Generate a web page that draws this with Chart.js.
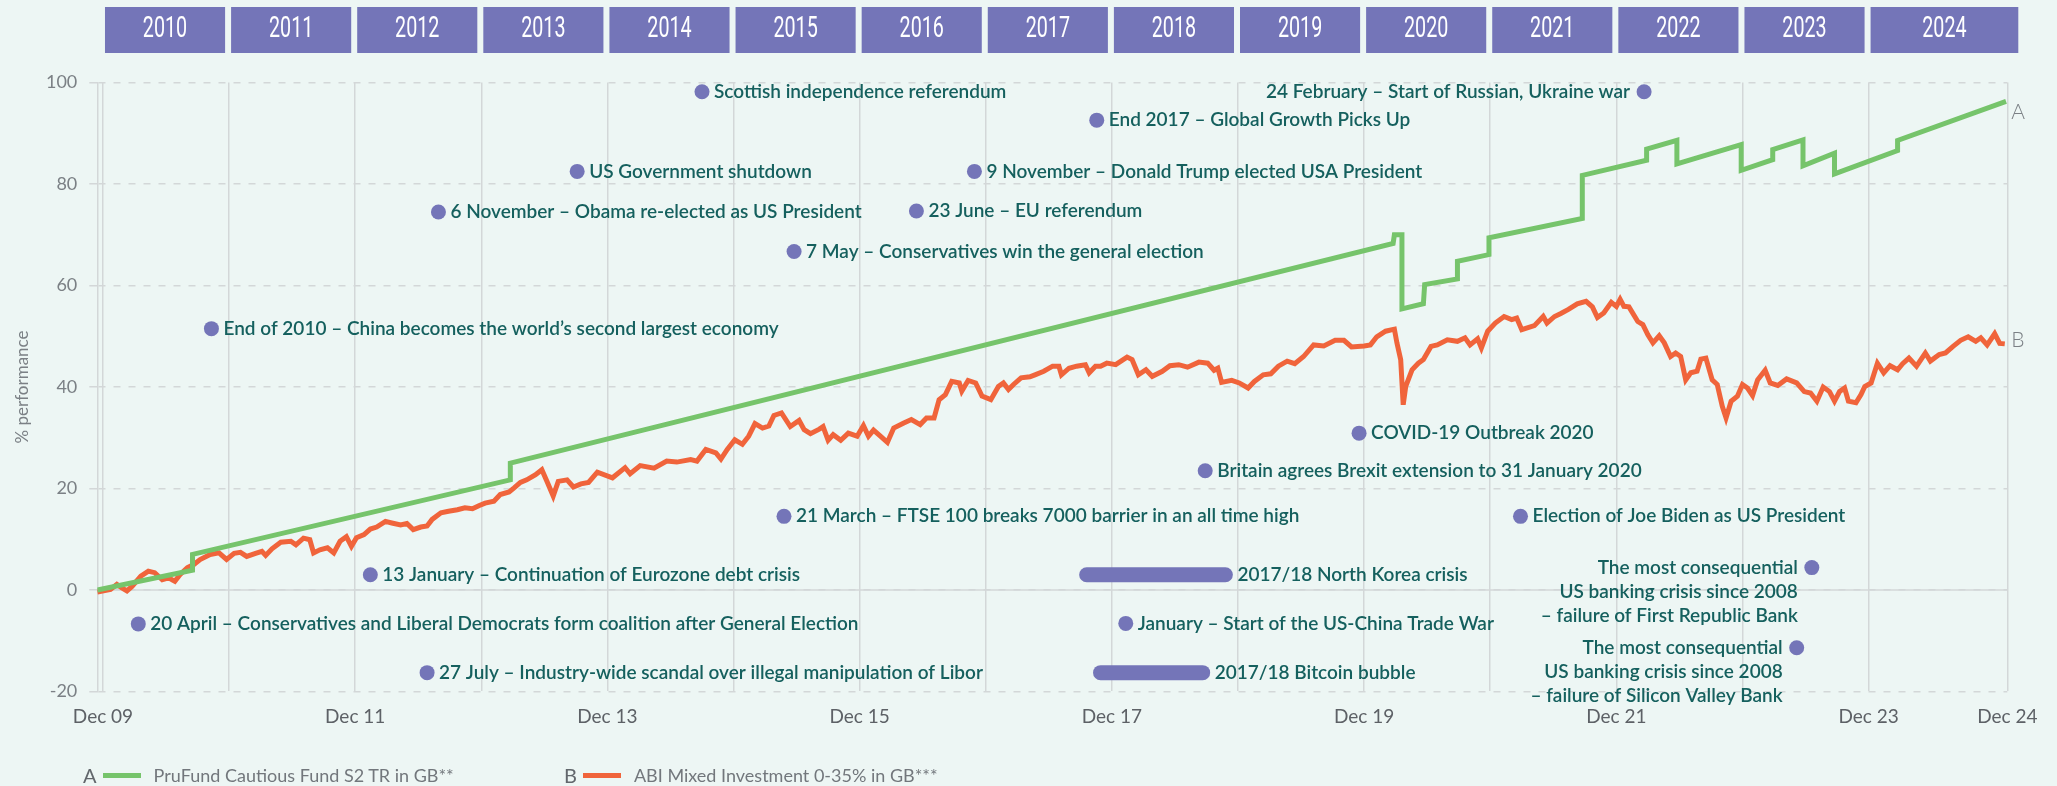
<!DOCTYPE html>
<html>
<head>
<meta charset="utf-8">
<script src="https://cdn.jsdelivr.net/npm/chart.js@4.4.1/dist/chart.umd.min.js"></script>
<style>
  html, body { margin: 0; padding: 0; background: #EDF6F4; }
  #wrap { position: relative; width: 2057px; height: 786px; }
  #legend { position: absolute; top: 762px; left: 0; width: 2057px; height: 26px; font-family: Lato, sans-serif; font-size: 18px; color: #72777c; }
  .item { position: absolute; top: 0; height: 26px; white-space: nowrap; display: flex; align-items: center; }
  .item:nth-child(1) { left: 83px; }
  .item:nth-child(2) { left: 564px; }
  .key { font-size: 20px; margin-right: 6px; color: #62676c; }
  .swatch { display: inline-block; width: 38px; height: 5px; margin-right: 13px; }
</style>
</head>
<body>
<div id="wrap">
  <canvas id="chart"></canvas>
  <div id="legend"></div>
</div>
<script>
// years counted from Dec 09 (0) to Dec 24
const headerYears = ['2010', '2011', '2012', '2013', '2014', '2015', '2016', '2017', '2018', '2019', '2020', '2021', '2022', '2023', '2024'];
const xTickYears = [0, 1, 2, 3, 4, 5, 6, 7, 8, 9, 10, 11, 12, 13, 14, 15.1];
const xTickLabels = ['Dec 09', '', 'Dec 11', '', 'Dec 13', '', 'Dec 15', '', 'Dec 17', '', 'Dec 19', '', 'Dec 21', '', 'Dec 23', 'Dec 24'];

const seriesKeys = ['A', 'B'];
const seriesNames = ['PruFund Cautious Fund S2 TR in GB**', 'ABI Mixed Investment 0-35% in GB***'];
const seriesColors = ['#76C46B', '#F0643B'];
const endLabelValues = [94.1, 49.3];

const greenYears = [-0.045, 0.71, 0.71, 3.23, 3.23, 10.23, 10.24, 10.30, 10.30, 10.47, 10.48, 10.74, 10.74, 10.99, 10.99, 11.73, 11.73, 12.24, 12.24, 12.48, 12.48, 12.99, 12.99, 13.24, 13.24, 13.48, 13.48, 13.73, 13.73, 14.23, 14.23, 15.09];
const greenValues = [0, 3.9, 7.0, 21.7, 25.0, 68.3, 70.0, 70.0, 55.4, 56.4, 60.2, 61.3, 64.8, 66.1, 69.4, 73.2, 81.7, 84.7, 86.9, 88.6, 84.0, 87.8, 82.7, 84.8, 86.8, 88.7, 83.6, 86.1, 82.0, 86.6, 88.6, 96.3];

const orangeYears = [
  -0.045, 0.06, 0.11, 0.15, 0.19, 0.23, 0.30, 0.36, 0.41, 0.47, 0.52, 0.57, 0.61, 0.67, 0.72, 0.77, 0.85, 0.92, 0.98,
  1.04, 1.09, 1.14, 1.21, 1.26, 1.29, 1.34, 1.41, 1.49, 1.53, 1.59, 1.64, 1.67, 1.72, 1.78, 1.83, 1.88, 1.93, 1.97,
  2.01, 2.07, 2.12, 2.17, 2.24, 2.29, 2.36, 2.41, 2.46, 2.52, 2.57, 2.61, 2.68, 2.74, 2.81, 2.87, 2.93, 2.98,
  3.03, 3.10, 3.15, 3.22, 3.26, 3.31, 3.36, 3.43, 3.48, 3.52, 3.57, 3.61, 3.68, 3.73, 3.79, 3.85, 3.92,
  4.04, 4.14, 4.18, 4.26, 4.37, 4.47, 4.55, 4.66, 4.71, 4.78, 4.86, 4.90, 4.95,
  5.01, 5.07, 5.12, 5.17, 5.23, 5.28, 5.32, 5.38, 5.45, 5.52, 5.56, 5.61, 5.68, 5.71, 5.75, 5.79, 5.85, 5.91, 5.98,
  6.03, 6.07, 6.11, 6.16, 6.22, 6.27, 6.35, 6.41, 6.48, 6.53, 6.59, 6.63, 6.68, 6.73, 6.79, 6.81, 6.86, 6.92, 6.97,
  7.04, 7.10, 7.14, 7.18, 7.22, 7.28, 7.35, 7.39, 7.46, 7.53, 7.58, 7.60, 7.66, 7.72, 7.79, 7.82, 7.87, 7.91, 7.96,
  8.03, 8.12, 8.16, 8.21, 8.27, 8.32, 8.40, 8.46, 8.53, 8.60, 8.69, 8.76, 8.81, 8.84, 8.87, 8.95,
  9.01, 9.08, 9.13, 9.20, 9.26, 9.32, 9.39, 9.45, 9.52, 9.60, 9.68, 9.77, 9.84, 9.90,
  10.00, 10.05, 10.10, 10.17, 10.24, 10.26, 10.29, 10.31, 10.33, 10.38, 10.43, 10.47, 10.53, 10.58, 10.66, 10.74, 10.80, 10.84, 10.90, 10.93, 10.98,
  11.04, 11.11, 11.17, 11.21, 11.25, 11.35, 11.42, 11.45, 11.51, 11.56, 11.62, 11.69, 11.76, 11.81, 11.85, 11.90, 11.96,
  12.00, 12.03, 12.06, 12.10, 12.17, 12.21, 12.25, 12.29, 12.34, 12.38, 12.43, 12.47, 12.51, 12.55, 12.59, 12.64, 12.67, 12.71, 12.76, 12.80, 12.84, 12.87, 12.91, 12.96,
  13.00, 13.04, 13.08, 13.12, 13.18, 13.22, 13.28, 13.35, 13.43, 13.49, 13.54, 13.59, 13.64, 13.69, 13.73, 13.77, 13.81, 13.84, 13.90, 13.94, 13.97,
  14.02, 14.07, 14.12, 14.17, 14.23, 14.27, 14.32, 14.38, 14.45, 14.49, 14.56, 14.61, 14.67, 14.73, 14.79, 14.85, 14.89, 14.94,
  15.00, 15.04, 15.08
];
const orangeValues = [
  -0.4, 0.1, 1.1, 0.4, -0.2, 0.7, 2.7, 3.7, 3.4, 2.0, 2.4, 1.7, 3.0, 4.4, 5.0, 6.0, 7.0, 7.3, 6.0,
  7.2, 7.4, 6.6, 7.2, 7.6, 6.8, 8.1, 9.4, 9.6, 8.9, 10.2, 9.9, 7.3, 7.9, 8.3, 7.3, 9.6, 10.5, 8.6,
  10.3, 10.9, 12.0, 12.4, 13.5, 13.2, 12.8, 13.1, 11.9, 12.4, 12.6, 13.9, 15.2, 15.5, 15.8, 16.2, 16.0, 16.6,
  17.1, 17.5, 18.8, 19.3, 20.1, 21.2, 21.7, 22.7, 23.7, 21.4, 18.5, 21.4, 21.7, 20.3, 20.9, 21.2, 23.2,
  22.1, 24.1, 22.9, 24.5, 24.0, 25.4, 25.2, 25.7, 25.4, 27.7, 27.0, 25.8, 27.7,
  29.6, 28.7, 30.3, 32.8, 31.9, 32.3, 34.4, 34.9, 32.2, 33.4, 31.6, 30.8, 31.7, 32.2, 29.5, 30.6, 29.5, 30.9, 30.3,
  32.4, 30.3, 31.5, 30.4, 29.1, 31.9, 32.9, 33.6, 32.6, 33.9, 33.9, 37.5, 38.5, 41.1, 40.8, 39.2, 41.3, 40.8, 38.2,
  37.5, 40.1, 40.8, 39.5, 40.5, 41.8, 42.0, 42.4, 43.1, 44.1, 44.1, 42.4, 43.7, 44.1, 44.4, 42.8, 44.1, 44.1, 44.7,
  44.4, 45.9, 45.4, 42.4, 43.4, 42.1, 43.1, 44.2, 44.4, 43.9, 44.9, 44.7, 43.3, 43.7, 40.9, 41.3,
  40.8, 39.8, 41.1, 42.4, 42.6, 44.1, 45.1, 44.6, 46.0, 48.3, 48.1, 49.2, 49.2, 47.9,
  48.1, 48.3, 49.9, 51.0, 51.4, 48.7, 45.4, 36.5, 40.1, 43.4, 44.7, 45.4, 48.0, 48.3, 49.3, 49.0, 49.7, 48.3, 49.5, 47.7, 51.0,
  52.6, 53.9, 53.3, 53.6, 51.3, 52.1, 53.9, 52.6, 53.9, 54.5, 55.3, 56.4, 56.9, 55.8, 53.7, 54.6, 56.7,
  55.9, 57.3, 55.9, 55.8, 52.9, 52.3, 50.3, 48.7, 50.1, 48.7, 46.0, 46.7, 46.0, 41.4, 42.8, 43.1, 45.5, 45.7, 41.4, 40.5, 36.2, 33.9, 37.2, 38.2,
  40.5, 39.8, 38.3, 41.4, 43.3, 40.8, 40.3, 41.6, 40.8, 39.1, 38.8, 37.2, 40.0, 39.1, 37.2, 39.1, 39.8, 37.2, 36.9, 38.5, 40.1,
  40.8, 44.7, 42.8, 44.2, 43.4, 44.6, 45.7, 44.1, 46.7, 45.1, 46.4, 46.7, 48.0, 49.2, 49.9, 49.0, 49.7, 48.3,
  50.5, 48.6, 48.5
];

// point events: position, label, which side the text sits
const eventYears = [4.75, 7.88, 12.22, 3.76, 6.91, 2.66, 6.45, 5.48, 0.86, 9.96, 8.74, 5.40, 11.24, 2.12, 13.55, 0.28, 8.11, 13.43, 2.57];
const eventValues = [98.2, 92.6, 98.2, 82.5, 82.5, 74.5, 74.7, 66.7, 51.5, 30.9, 23.5, 14.5, 14.5, 3.0, 4.4, -6.7, -6.6, -11.4, -16.3];
const eventLabels = [
  'Scottish independence referendum',
  'End 2017 – Global Growth Picks Up',
  '24 February – Start of Russian, Ukraine war',
  'US Government shutdown',
  '9 November – Donald Trump elected USA President',
  '6 November – Obama re-elected as US President',
  '23 June – EU referendum',
  '7 May – Conservatives win the general election',
  'End of 2010 – China becomes the world’s second largest economy',
  'COVID-19 Outbreak 2020',
  'Britain agrees Brexit extension to 31 January 2020',
  '21 March – FTSE 100 breaks 7000 barrier in an all time high',
  'Election of Joe Biden as US President',
  '13 January – Continuation of Eurozone debt crisis',
  'The most consequential\nUS banking crisis since 2008\n– failure of First Republic Bank',
  '20 April – Conservatives and Liberal Democrats form coalition after General Election',
  'January – Start of the US-China Trade War',
  'The most consequential\nUS banking crisis since 2008\n– failure of Silicon Valley Bank',
  '27 July – Industry-wide scandal over illegal manipulation of Libor'
];
const eventSides = ['right', 'right', 'left', 'right', 'right', 'right', 'right', 'right', 'right', 'right', 'right', 'right', 'right', 'right', 'left', 'right', 'right', 'left', 'right'];

// period events drawn as bars
const barStarts = [7.80, 7.91];
const barEnds = [8.90, 8.72];
const barValues = [3.0, -16.3];
const barLabels = ['2017/18 North Korea crisis', '2017/18 Bitcoin bubble'];

const purple = '#7475B8';
const teal = '#15605E';
const grey = '#7b8085';
const gridGrey = '#D3D7D8';

const toPoints = (xs, ys) => xs.map((v, i) => ({ x: v, y: ys[i] }));

const datasets = [
  {
    label: 'events',
    data: toPoints(eventYears, eventValues),
    showLine: false,
    pointRadius: 7.5,
    pointBackgroundColor: purple,
    pointBorderWidth: 0,
    order: 0
  },
  {
    label: seriesNames[0],
    data: toPoints(greenYears, greenValues),
    borderColor: seriesColors[0],
    borderWidth: 5,
    pointRadius: 0,
    order: 2
  },
  {
    label: seriesNames[1],
    data: toPoints(orangeYears, orangeValues),
    borderColor: seriesColors[1],
    borderWidth: 5,
    pointRadius: 0,
    order: 3
  }
];
barLabels.forEach((name, i) => {
  datasets.push({
    label: name,
    data: [{ x: barStarts[i], y: barValues[i] }, { x: barEnds[i], y: barValues[i] }],
    borderColor: purple,
    borderWidth: 15,
    borderCapStyle: 'round',
    pointRadius: 0,
    order: 1
  });
});

// solid zero line under the data
const zeroLine = {
  id: 'zeroLine',
  beforeDatasetsDraw(chart) {
    const { ctx, chartArea, scales: { y } } = chart;
    const py = y.getPixelForValue(0);
    ctx.save();
    ctx.strokeStyle = gridGrey;
    ctx.lineWidth = 1.5;
    ctx.beginPath();
    ctx.moveTo(chartArea.left, py);
    ctx.lineTo(chartArea.right, py);
    ctx.stroke();
    ctx.restore();
  }
};

// purple year boxes above the plot
const yearHeader = {
  id: 'yearHeader',
  afterDraw(chart) {
    const { ctx, scales: { x } } = chart;
    ctx.save();
    headerYears.forEach((label, i) => {
      const x0 = x.getPixelForValue(i) + 2;
      const x1 = i < headerYears.length - 1 ? x.getPixelForValue(i + 1) - 4 : x.getPixelForValue(x.max) + 11;
      ctx.fillStyle = purple;
      ctx.fillRect(x0, 7, x1 - x0, 46);
      ctx.save();
      ctx.translate((x0 + x1) / 2, 30);
      ctx.scale(0.68, 1);
      ctx.fillStyle = '#ffffff';
      ctx.font = '400 29px Roboto';
      ctx.textAlign = 'center';
      ctx.textBaseline = 'middle';
      ctx.fillText(label, 0, 0);
      ctx.restore();
    });
    ctx.restore();
  }
};

// event texts and A / B end labels
const notes = {
  id: 'notes',
  afterDatasetsDraw(chart) {
    const { ctx, chartArea, scales: { x, y } } = chart;
    ctx.save();
    ctx.font = '600 19px Lato';
    ctx.fillStyle = teal;
    ctx.textBaseline = 'middle';
    eventLabels.forEach((text, i) => {
      const px = x.getPixelForValue(eventYears[i]);
      const py = y.getPixelForValue(eventValues[i]);
      const right = eventSides[i] === 'right';
      ctx.textAlign = right ? 'left' : 'right';
      text.split('\n').forEach((line, j) => {
        ctx.fillText(line, right ? px + 12 : px - 14, py + j * 24);
      });
    });
    ctx.textAlign = 'left';
    barLabels.forEach((text, i) => {
      ctx.fillText(text, x.getPixelForValue(barEnds[i]) + 12, y.getPixelForValue(barValues[i]));
    });
    ctx.font = '300 21px Lato';
    ctx.fillStyle = grey;
    seriesKeys.forEach((k, i) => {
      ctx.fillText(k, chartArea.right + 4, y.getPixelForValue(endLabelValues[i]));
    });
    ctx.restore();
  }
};

new Chart(document.getElementById('chart'), {
  type: 'line',
  data: { datasets },
  options: {
    responsive: true,
    maintainAspectRatio: false,
    animation: false,
    layout: { padding: { left: 0, top: 82.6, right: 49.7, bottom: 54.6 } },
    plugins: { legend: { display: false }, tooltip: { enabled: false } },
    elements: { line: { tension: 0 } },
    scales: {
      x: {
        type: 'linear',
        min: -0.045,
        max: 15.1,
        afterBuildTicks: (scale) => { scale.ticks = xTickYears.map(v => ({ value: v })); },
        afterFit: (scale) => { scale.height = 40; },
        ticks: {
          autoSkip: false,
          maxRotation: 0,
          padding: 14,
          color: '#5d6166',
          font: { family: 'Lato', size: 19 },
          callback: (value, index) => xTickLabels[index]
        },
        grid: { color: gridGrey, lineWidth: 1.5, drawTicks: false },
        border: { display: false }
      },
      y: {
        min: -20,
        max: 100,
        afterFit: (scale) => { scale.width = 97.3; },
        ticks: {
          stepSize: 20,
          padding: 12,
          color: grey,
          font: { family: 'Lato', size: 18 }
        },
        grid: { color: gridGrey, lineWidth: 1.5, tickLength: 8, tickBorderDash: [] },
        border: { display: true, color: gridGrey, width: 1.5, dash: [7, 8] },
        title: {
          display: true,
          text: '% performance',
          color: grey,
          font: { family: 'Lato', size: 17 },
          padding: { top: 12, bottom: 0 }
        }
      }
    }
  },
  plugins: [zeroLine, notes, yearHeader]
});

const legend = document.getElementById('legend');
seriesKeys.forEach((k, i) => {
  const item = document.createElement('div');
  item.className = 'item';
  item.innerHTML = '<span class="key">' + k + '</span><span class="swatch" style="background:' + seriesColors[i] + '"></span><span>' + seriesNames[i] + '</span>';
  legend.appendChild(item);
});
</script>
</body>
</html>
